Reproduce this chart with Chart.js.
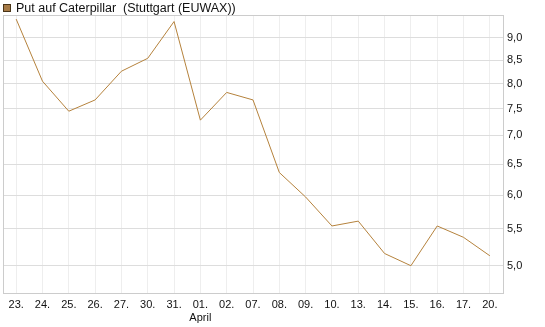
<!DOCTYPE html>
<html>
<head>
<meta charset="utf-8">
<script src="https://cdn.jsdelivr.net/npm/chart.js@4.4.0/dist/chart.umd.min.js"></script>
<style>
  html, body { margin: 0; padding: 0; background: #fff; }
  #wrap { width: 545px; height: 327px; position: relative; }
</style>
</head>
<body>
<div id="wrap"><canvas id="chart"></canvas></div>
<script>
// Trading days shown on the x axis (the month name sits under 01.)
const days = ['23.', '24.', '25.', '26.', '27.', '30.', '31.', ['01.', 'April'], '02.', '07.',
              '08.', '09.', '10.', '13.', '14.', '15.', '16.', '17.', '20.'];

// Closing prices
const prices = [9.45, 8.05, 7.45, 7.67, 8.26, 8.54, 9.39, 7.28, 7.82, 7.67,
                6.36, 5.97, 5.54, 5.61, 5.16, 5.00, 5.54, 5.38, 5.13];

// Price axis ticks (log scale)
const yTicks = [5.0, 5.5, 6.0, 6.5, 7.0, 7.5, 8.0, 8.5, 9.0];
const yMin = 4.66;
const yMax = 9.55;

const seriesName = 'Put auf Caterpillar  (Stuttgart (EUWAX))';

const font = { family: "'Liberation Sans', Arial, sans-serif", size: 11 };

// frame round the plot area plus the small legend in the top left corner
const framePlugin = {
    id: 'frame',
    afterDraw(chart) {
        const { ctx, chartArea: a } = chart;
        const ds = chart.data.datasets[0];
        ctx.save();
        ctx.strokeStyle = '#cccccc';
        ctx.lineWidth = 1;
        ctx.strokeRect(Math.round(a.left) + 0.5, Math.round(a.top) + 0.5,
                       Math.round(a.right - a.left), Math.round(a.bottom - a.top));

        // legend
        ctx.fillStyle = ds.backgroundColor;
        ctx.fillRect(3, 4, 8, 8);
        ctx.strokeStyle = '#4a3518';
        ctx.strokeRect(3.5, 4.5, 7, 7);
        ctx.fillStyle = '#111';
        ctx.font = "12.5px 'Liberation Sans', Arial, sans-serif";
        ctx.textBaseline = 'middle';
        ctx.fillText(ds.label, 16, 8.5);
        ctx.restore();
    }
};

new Chart(document.getElementById('chart'), {
    type: 'line',
    data: {
        labels: days,
        datasets: [{
            label: seriesName,
            data: prices,
            borderColor: '#b5823c',
            backgroundColor: '#a67a46',
            borderWidth: 1,
            pointRadius: 0,
            tension: 0,
            fill: false
        }]
    },
    options: {
        responsive: true,
        maintainAspectRatio: false,
        animation: false,
        layout: { padding: { left: 3, right: 0, top: 15, bottom: 0 } },
        scales: {
            x: {
                offset: true,
                grid: { color: '#eeeeee', drawTicks: false, offset: false },
                border: { color: '#cccccc' },
                ticks: { color: '#111', font: font, padding: 5, maxRotation: 0, autoSkip: false },
                afterFit(scale) { scale.height = 34; }
            },
            y: {
                type: 'logarithmic',
                position: 'right',
                min: yMin,
                max: yMax,
                grid: { color: '#dddddd', drawTicks: false },
                border: { color: '#cccccc' },
                ticks: {
                    color: '#111',
                    font: font,
                    padding: 4,
                    callback: v => v.toFixed(1).replace('.', ',')
                },
                afterBuildTicks(scale) {
                    scale.ticks = yTicks.map(v => ({ value: v }));
                },
                afterFit(scale) { scale.width = 42; }
            }
        },
        plugins: {
            legend: { display: false },
            tooltip: { enabled: false }
        }
    },
    plugins: [framePlugin]
});
</script>
</body>
</html>
